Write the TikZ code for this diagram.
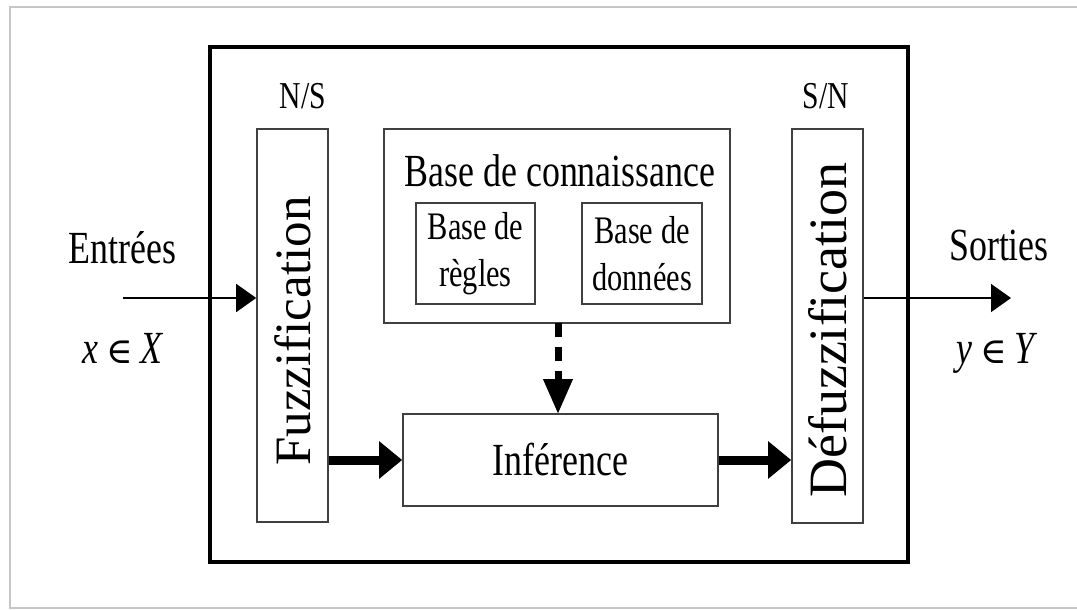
\documentclass[tikz,border=0pt]{standalone}
\usepackage{fontspec}
\setmainfont{Liberation Serif}[FakeStretch=0.78]
\newfontfamily\rotfont{Liberation Serif}
\newfontfamily\symfont{DejaVu Serif}
\usetikzlibrary{arrows.meta}
\tikzset{
    block/.style={draw=black!75, line width=1.6pt, inner sep=0pt},
    thinarrow/.style={line width=1.6pt, -{Triangle[length=20pt,width=28pt]}},
    thickarrow/.style={line width=9pt, -{Triangle[length=23pt,width=36pt]}},
    big/.style={font=\fontsize{46}{55}\selectfont},
    small/.style={font=\fontsize{39}{47}\selectfont, align=center},
    vert/.style={rotate=90, inner sep=0pt, font=\rotfont\fontsize{51}{60}\selectfont}
}
\newcommand{\elem}{\,{\symfont\fontsize{36}{40}\selectfont ∈}\,}
\begin{document}
\begin{tikzpicture}[x=1pt,y=-1pt]
            \useasboundingbox (0,0) rectangle (1077,610);
            \draw[gray!45, line width=2pt] (1077,7) -- (10,7) -- (10,608) -- (1077,608);
            \node [draw, line width=4pt, minimum width=698pt, minimum height=515pt] (system) at (559,304.5) {};
            \node [block, minimum width=71pt, minimum height=393pt] (fuzz) at (292.5,325.5) {};
            \node [block, minimum width=71pt, minimum height=394pt] (defuzz) at (827.5,326) {};
            \node [block, minimum width=346pt, minimum height=194pt] (base) at (557,226) {};
            \node [block, small, minimum width=119pt, minimum height=101pt] (regles) at (475.5,253.5) {Base de\\règles};
            \node [block, small, minimum width=120pt, minimum height=101pt] (donnees) at (642,253.5) {Base de\\données};
            \node [block, big, minimum width=315pt, minimum height=92pt] (infer) at (560.5,460) {Inférence};
            \node [vert] (fuzztext) at (293,331) {Fuzzification};
            \node [vert, font=\rotfont\fontsize{54}{64}\selectfont] (defuzztext) at (828,330) {Défuzzification};
            \node [big, anchor=base] (basetext) at (560,186) {Base de connaissance};
            \node [font=\fontsize{38}{45}\selectfont, anchor=base] (ns) at (303,108) {N/S};
            \node [font=\fontsize{38}{45}\selectfont, anchor=base] (sn) at (826,108) {S/N};
            \node [big, anchor=base] (entrees) at (122.5,263) {Entrées};
            \node [big, anchor=base] (xin) at (123,363) {\textit{x}\elem\textit{X}};
            \node [big, anchor=base] (sorties) at (999,260) {Sorties};
            \node [big, anchor=base] (yout) at (997,363) {\textit{y}\elem\textit{Y}};
            \coordinate (in) at (123,298);
            \coordinate (out) at (1011,298);
            \draw[thinarrow] (in) -- (in -| fuzz.west);
            \draw[thinarrow] (out -| defuzz.east) -- (out);
            \draw[thickarrow] (infer.west -| fuzz.east) -- (infer.west);
            \draw[thickarrow] (infer.east) -- (infer.east -| defuzz.west);
            \draw[line width=7pt, dash pattern=on 14pt off 10pt, -{Triangle[length=35pt,width=28pt]}] (558,323) -- (558,414);
        \end{tikzpicture}
\end{document}
